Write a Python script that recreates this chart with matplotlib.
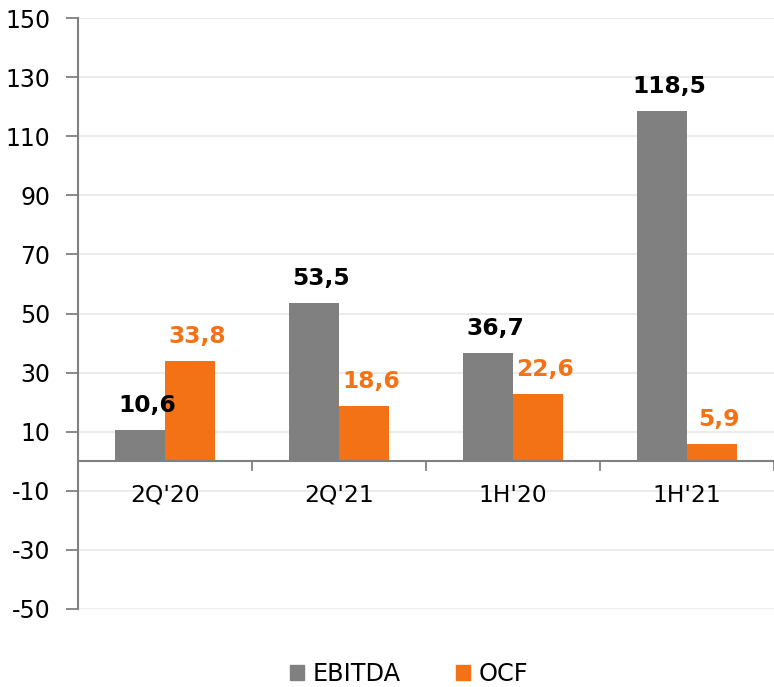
import matplotlib
matplotlib.use("Agg")
import matplotlib.pyplot as plt
import numpy as np

categories = ["2Q'20", "2Q'21", "1H'20", "1H'21"]
ebitda = [10.6, 53.5, 36.7, 118.5]
ocf = [33.8, 18.6, 22.6, 5.9]
yticks = [-50, -30, -10, 10, 30, 50, 70, 90, 110, 130, 150]

GRAY = "#808080"
ORANGE = "#F47216"

plt.rcParams['font.family'] = ['DejaVu Sans']
fig = plt.figure(figsize=(7.74, 6.87), dpi=100)
ax = fig.add_axes([78/774, 1-609/687, 1-78/774, (609-18)/687])

x = np.arange(len(categories))
w = 0.2874
ax.bar(x - w/2, ebitda, width=w, color=GRAY, zorder=3)
ax.bar(x + w/2, ocf, width=w, color=ORANGE, zorder=3)

def fmt(v):
    return f"{v:.1f}".replace(".", ",")

for xi, v in zip(x - w/2, ebitda):
    ax.annotate(fmt(v), (xi, v), xytext=(5, 13), textcoords="offset points",
                ha="center", va="baseline", fontsize=16.8, fontweight="bold", color="black")
for xi, v in zip(x + w/2, ocf):
    ax.annotate(fmt(v), (xi, v), xytext=(5, 13), textcoords="offset points",
                ha="center", va="baseline", fontsize=16.8, fontweight="bold", color=ORANGE)

ax.set_xlim(-0.5, len(categories) - 0.5)
ax.set_ylim(-50, 150)
ax.set_yticks(yticks)
ax.set_yticklabels([str(t) for t in yticks], fontsize=17)
ax.yaxis.grid(True, color="#ececec", linewidth=1.5, zorder=0)
ax.tick_params(axis="y", length=9, width=1.3, color=GRAY, pad=11)

for s in ["top", "right", "bottom"]:
    ax.spines[s].set_visible(False)
ax.spines["left"].set_color(GRAY)
ax.spines["left"].set_linewidth(1.5)

# zero line acting as category axis
ax.axhline(0, color=GRAY, linewidth=1.5, zorder=4)
ax.set_xticks([])
for b in np.arange(0.5, len(categories) + 0.5, 1.0):
    ax.plot([b, b], [0, -3.0], color=GRAY, linewidth=1.3, zorder=4, clip_on=False)
for xi, c in zip(x, categories):
    ax.text(xi, -11.5, c, ha="center", va="center", fontsize=16.8)

handles = [plt.Rectangle((0, 0), 1, 1, color=GRAY), plt.Rectangle((0, 0), 1, 1, color=ORANGE)]
fig.legend(handles, ["EBITDA", "OCF"], loc="center", bbox_to_anchor=(409/774, 1-674/687),
           ncol=2, frameon=False, fontsize=17.3, handlelength=0.6, handleheight=0.6,
           handletextpad=0.35, columnspacing=2.3)

fig.savefig("out.png", dpi=100)
